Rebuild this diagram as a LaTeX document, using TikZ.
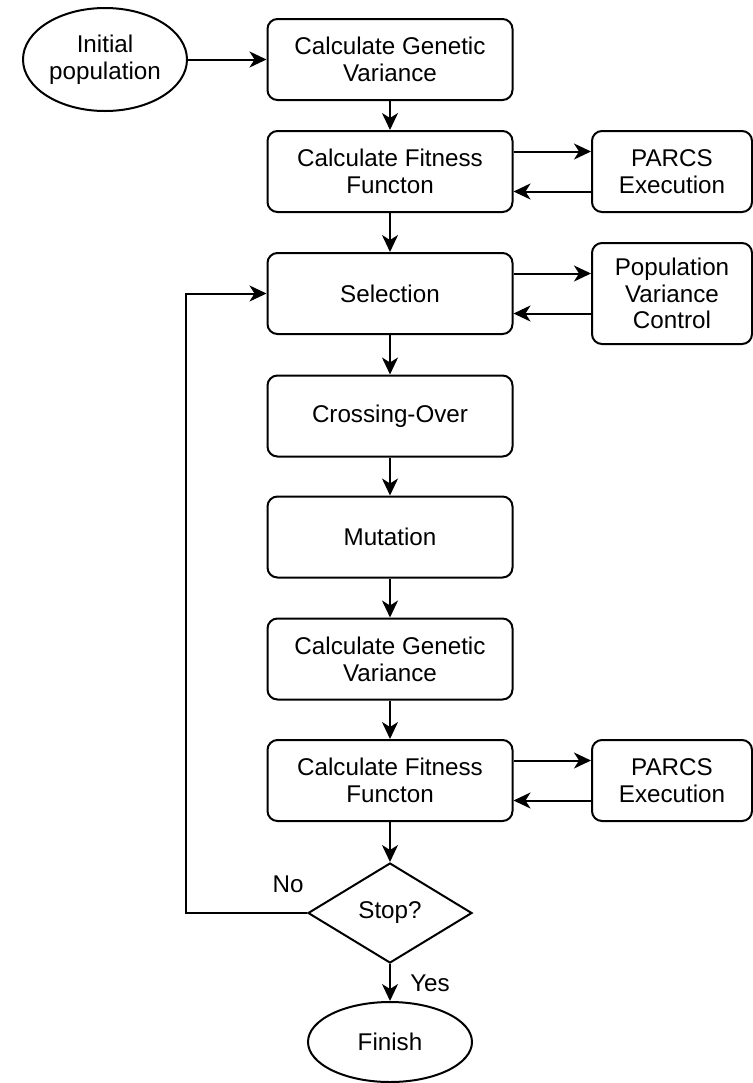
\documentclass[tikz,border=0pt]{standalone}
\usepackage{fontspec}
\setmainfont{Liberation Sans}
\usetikzlibrary{shapes.geometric,arrows.meta}
\tikzset{
  box/.style={draw, rounded corners=5pt, minimum width=122.5pt, minimum height=40.5pt, align=center, line width=1pt},
  sidebox/.style={box, minimum width=80pt},
  term/.style={draw, ellipse, minimum width=82pt, inner sep=0pt, align=center, line width=1pt},
  decision/.style={draw, diamond, aspect=1.64, minimum width=82pt, minimum height=50pt, inner sep=0pt, line width=1pt},
  arr/.style={-{Stealth[length=8.5pt,width=8pt,inset=2.5pt]}, line width=1pt},
}
\begin{document}
\begin{tikzpicture}[x=0.5pt,y=-0.5pt,font=\fontsize{12.1}{13.4}\selectfont]
        \useasboundingbox (0,0) rectangle (753,1083);
        %% Start
        \node[term, minimum height=51.5pt] (init) at (105,59.5) {Initial\\population};
        %% Main column
        \node[box] (var1) at (390,59.5) {Calculate Genetic\\Variance};
        \node[box] (fit1) at (390,171.5) {Calculate Fitness\\Functon};
        \node[box] (sel) at (390,293.5) {Selection};
        \node[box] (cross) at (390,416) {Crossing-Over};
        \node[box] (mut) at (390,537) {Mutation};
        \node[box] (var2) at (390,659) {Calculate Genetic\\Variance};
        \node[box] (fit2) at (390,780.5) {Calculate Fitness\\Functon};
        \node[decision] (stop) at (390,913) {Stop?};
        \node[term, minimum height=40pt] (finish) at (390,1042) {Finish};
        %% Side boxes
        \node[sidebox] (parcs1) at (672,171.5) {PARCS\\Execution};
        \node[sidebox, minimum height=50.5pt] (pvc) at (672,293.5) {Population\\Variance\\Control};
        \node[sidebox] (parcs2) at (672,780.5) {PARCS\\Execution};
        %% Flow
        \draw[arr] (init.east) -- (var1.west);
        \foreach \a/\b in {var1/fit1,fit1/sel,sel/cross,cross/mut,mut/var2,var2/fit2,fit2/stop,stop/finish} {
            \draw[arr] (\a) -- (\b);
        }
        \foreach \a/\b in {fit1/parcs1,sel/pvc,fit2/parcs2} {
            \draw[arr] ([yshift=10pt]\a.east) -- ([yshift=10pt]\b.west);
            \draw[arr] ([yshift=-10pt]\b.west) -- ([yshift=-10pt]\a.east);
        }
        %% Loop back
        \coordinate (back) at (186,913);
        \draw[arr] (stop.west) -- (back) |- (sel.west);
        \node (no) at (288,884) {No};
        \node (yes) at (430,983) {Yes};
    \end{tikzpicture}
\end{document}
